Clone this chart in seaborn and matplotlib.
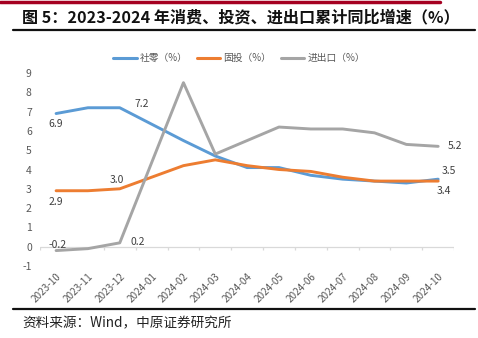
import matplotlib
matplotlib.use("Agg")
import matplotlib.pyplot as plt
import seaborn as sns
import pandas as pd
import numpy as np

months = ["2023-10", "2023-11", "2023-12", "2024-01", "2024-02", "2024-03", "2024-04",
          "2024-05", "2024-06", "2024-07", "2024-08", "2024-09", "2024-10"]
retail = [6.9, 7.2, 7.2, 6.35, 5.5, 4.7, 4.1, 4.1, 3.7, 3.5, 3.4, 3.3, 3.5]
fai = [2.9, 2.9, 3.0, 3.6, 4.2, 4.5, 4.2, 4.0, 3.9, 3.6, 3.4, 3.4, 3.4]
trade = [-0.2, -0.1, 0.2, 4.35, 8.5, 4.8, 5.5, 6.2, 6.1, 6.1, 5.9, 5.3, 5.2]
series_names = ["社零（%）", "固投（%）", "进出口（%）"]
colors = ["#5B9BD5", "#ED7D31", "#A5A5A5"]

sns.set_theme(style="white")
plt.rcParams["font.family"] = ["Noto Sans CJK SC", "DejaVu Sans"]

idx = np.arange(len(months))
df = pd.concat([
    pd.DataFrame({"idx": idx, "value": vals, "series": name})
    for name, vals in zip(series_names, [retail, fai, trade])
])

fig = plt.figure(figsize=(4.78, 3.38), dpi=100)
ax = fig.add_axes([0.084, 0.213, 0.866, 0.571])

sns.lineplot(data=df, x="idx", y="value", hue="series", palette=colors,
             hue_order=series_names, linewidth=2.1, ax=ax, legend=False)

ax.set_xlim(-0.5, len(months) - 0.5)
ax.set_ylim(-1, 9)
ax.set_yticks(range(-1, 10))
ax.set_yticklabels([str(v) for v in range(-1, 10)], fontsize=7.5, color="#595959")
ax.set_xticks(idx)
ax.set_xticklabels(months, rotation=45, ha="right", rotation_mode="anchor",
                   fontsize=7.2, color="#595959")
ax.tick_params(axis="x", length=0, pad=4)
ax.tick_params(axis="y", length=0, pad=6)
ax.set_xlabel("")
ax.set_ylabel("")
for s in ax.spines.values():
    s.set_visible(False)
ax.axhline(0, color="#D9D9D9", linewidth=0.9, zorder=0)
ax.vlines(np.arange(-0.5, len(months)), -0.18, 0, color="#D9D9D9", linewidth=0.9, zorder=0)

# data labels
lab = dict(fontsize=7.5, color="#404040")
ax.text(0, retail[0] - 0.3, f"{retail[0]:.1f}", ha="center", va="top", **lab)
ax.text(2.45, retail[2] - 0.05, f"{retail[2]:.1f}", ha="left", va="bottom", **lab)
ax.text(1.9, fai[2] + 0.2, f"{fai[2]:.1f}", ha="center", va="bottom", **lab)
ax.text(0, fai[0] - 0.3, f"{fai[0]:.1f}", ha="center", va="top", **lab)
ax.text(0.05, trade[0] + 0.05, f"{trade[0]:.1f}", ha="center", va="bottom", **lab)
ax.text(2.35, trade[2] - 0.2, f"{trade[2]:.1f}", ha="left", va="bottom", **lab)
ax.text(12.3, trade[-1], f"{trade[-1]:.1f}", ha="left", va="center", **lab)
ax.text(12.55, retail[-1] + 0.15, f"{retail[-1]:.1f}", ha="right", va="bottom", **lab)
ax.text(12.4, fai[-1] - 0.25, f"{fai[-1]:.1f}", ha="right", va="top", **lab)

# legend
from matplotlib.lines import Line2D
handles = [Line2D([0], [0], color=c, lw=2.2) for c in colors]
fig.legend(handles, series_names, loc="center", bbox_to_anchor=(0.5, 1 - 58 / 338),
           ncol=3, frameon=False, fontsize=7, handlelength=2.4, handletextpad=0.3,
           columnspacing=1.0, labelcolor="#595959")

# title and rules
fig.text(22 / 478, 1 - 17 / 338, "图 5：2023-2024 年消费、投资、进出口累计同比增速（%）",
         fontsize=11.6, fontweight="bold", ha="left", va="center", color="#111111")
fig.add_artist(Line2D([0, 440 / 478], [1 - 1.5 / 338] * 2, color="#A50021", lw=2.5,
                      transform=fig.transFigure))
fig.add_artist(Line2D([13 / 478, 475 / 478], [1 - 30 / 338] * 2, color="#111111", lw=1.6,
                      transform=fig.transFigure))
fig.add_artist(Line2D([13 / 478, 475 / 478], [1 - 309 / 338] * 2, color="#111111", lw=1.6,
                      transform=fig.transFigure))
fig.text(22 / 478, 1 - 323 / 338, "资料来源：Wind，中原证券研究所", fontsize=9.8,
         ha="left", va="center", color="#222222")

fig.savefig("out.png", dpi=100)
